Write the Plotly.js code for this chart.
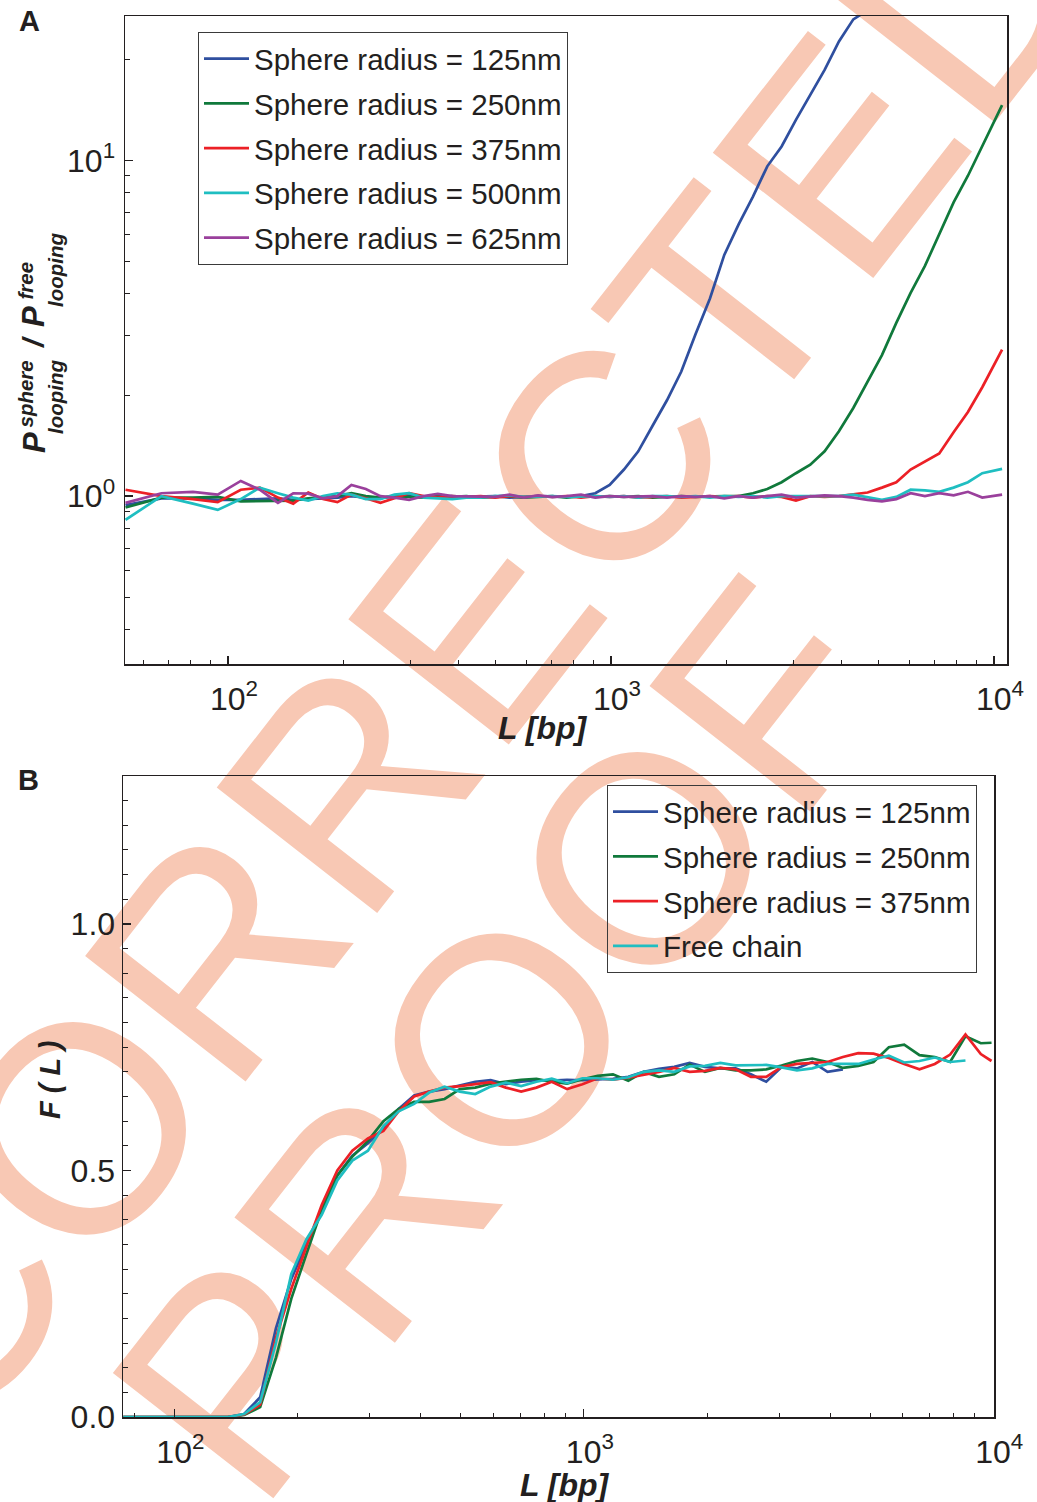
<!DOCTYPE html>
<html>
<head>
<meta charset="utf-8">
<script src="https://cdn.plot.ly/plotly-3.0.1.min.js"></script>
<style>
  html, body { margin:0; padding:0; background:#fff; }
  #wrap { position:relative; width:1037px; height:1502px; overflow:hidden; background:#fff; }
  .wm { position:absolute; font-family:"Liberation Sans", Arial, sans-serif; font-size:296px; line-height:1;
        color:#f8c8b4; white-space:nowrap; transform-origin:50% 50%; }
  #chart { position:absolute; left:0; top:0; width:1037px; height:1502px; }
</style>
</head>
<body>
<div id="wrap">
  <div class="wm" id="wm1">CORRECTED</div>
  <div class="wm" id="wm2">PROOF</div>
  <div id="chart"></div>
</div>
<script>
// ---------------- Panel A data: P_looping(sphere) / P_looping(free) ----------------
const lengthA = [54,67,81,94,108,121,135,148,162,177,193,210,229,250,272,297,324,353,385,419,457,498,543,592,645,703,766,835,910,992,1081,1178,1284,1400,1526,1663,1813,1976,2154,2348,2559,2789,3040,3314,3612,3937,4292,4678,5099,5558,6058,6603,7197,7845,8551,9321,10500];

const ratioR125 = [0.94,0.985,0.985,0.975,0.975,0.98,0.985,0.975,0.98,0.985,
  0.99,1.0,0.99,0.99,0.995,1.0,0.995,1.0,1.0,0.995,
  1.0,1.0,0.99,0.995,1.0,0.995,1.0,1.0,1.02,1.08,
  1.2,1.36,1.62,1.93,2.35,3.04,3.88,5.23,6.45,7.8,
  9.6,11.0,13.2,15.7,18.6,22.6,26.3,28.0,
  null,null,null,null,null,null,null,null,null];

const ratioR250 = [0.925,0.99,0.99,0.995,0.965,0.965,0.965,0.97,0.985,0.99,
  1.0,1.02,1.0,0.99,1.0,0.995,0.99,1.0,0.995,1.0,
  0.99,0.995,1.0,0.99,0.995,1.0,0.99,1.0,0.995,1.0,
  0.995,1.0,0.99,0.995,1.0,0.995,1.0,1.0,
  1.0,1.02,1.05,1.10,1.17,1.24,1.36,1.56,1.83,2.20,
  2.63,3.28,4.03,4.85,6.0,7.5,9.0,11.0,14.6];

const ratioR375 = [1.045,1.0,0.98,0.96,1.045,1.06,0.99,0.95,1.025,0.98,
  0.96,1.01,0.985,0.955,0.985,1.02,1.0,0.99,1.0,0.995,
  1.0,0.99,1.0,0.995,1.0,0.995,1.0,0.99,1.0,0.995,
  1.0,0.99,0.995,1.0,0.99,0.995,1.0,0.995,1.0,0.99,
  1.0,0.995,0.97,1.0,0.995,1.0,
  1.01,1.025,1.06,1.10,1.2,1.27,1.34,1.55,1.78,2.11,2.73];

const ratioR500 = [0.85,1.0,0.95,0.91,0.98,1.06,1.02,0.99,0.97,1.0,
  1.02,1.01,0.98,0.98,1.01,1.02,0.99,0.985,0.98,0.99,
  0.99,1.0,1.005,0.995,1.0,1.0,0.995,1.0,1.0,0.995,
  1.0,0.99,1.0,1.0,0.995,1.0,0.99,1.0,0.995,1.0,
  0.99,1.0,1.0,0.995,1.0,1.0,1.01,0.99,
  0.975,0.995,1.045,1.04,1.03,1.06,1.10,1.17,1.205];

const ratioR625 = [0.955,1.02,1.03,1.01,1.11,1.045,0.955,1.02,1.017,0.985,
  1.0,1.08,1.05,1.0,0.99,0.975,1.0,1.015,1.0,1.0,
  1.0,0.995,1.01,0.99,1.005,0.995,1.0,1.01,0.99,1.0,
  0.995,1.0,1.0,0.99,1.0,0.995,1.0,0.985,1.0,0.99,
  1.0,1.01,0.99,1.0,1.005,1.0,0.99,0.975,0.965,0.98,
  1.02,1.0,1.02,1.005,1.03,0.99,1.01];

const namesA = ["Sphere radius = 125nm","Sphere radius = 250nm","Sphere radius = 375nm","Sphere radius = 500nm","Sphere radius = 625nm"];

// ---------------- Panel B data: F(L) ----------------
const lengthB = [75,81,94,108,121,135,148,162,177,193,210,229,250,272,297,324,353,385,419,457,498,543,592,645,703,766,835,910,992,1081,1178,1284,1400,1526,1663,1813,1976,2154,2348,2559,2789,3040,3314,3612,3937,4292,4678,5099,5558,6058,6603,7197,7845,8551,9321,9900];

const fracR125 = [0,0,0,0,0,0,0.006,0.04,0.18,0.28,
  0.35,0.42,0.49,0.53,0.555,0.585,0.625,0.652,0.66,0.665,
  0.672,0.68,0.683,0.675,0.68,0.683,0.682,0.684,0.683,0.684,
  0.686,0.69,0.70,0.706,0.71,0.718,0.71,0.707,0.707,0.695,
  0.68,0.71,0.707,0.72,0.70,0.705,
  null,null,null,null,null,null,null,null,null,null];

const fracR250 = [0,0,0,0,0,0,0.004,0.02,0.12,0.24,
  0.33,0.42,0.49,0.528,0.56,0.60,0.625,0.639,0.639,0.645,
  0.665,0.668,0.676,0.68,0.684,0.686,0.68,0.676,0.685,0.692,
  0.695,0.682,0.70,0.69,0.695,0.715,0.70,0.708,0.703,0.703,
  0.705,0.713,0.722,0.727,0.72,0.708,0.712,0.72,0.75,0.755,
  0.734,0.73,0.72,0.772,0.758,0.759];

const fracR375 = [0,0,0,0,0,0,0.005,0.025,0.16,0.26,
  0.345,0.43,0.50,0.54,0.565,0.58,0.62,0.65,0.66,0.668,
  0.671,0.675,0.679,0.668,0.66,0.668,0.68,0.665,0.675,0.687,
  0.684,0.688,0.694,0.70,0.708,0.70,0.702,0.708,0.705,0.69,
  0.69,0.71,0.716,0.718,0.72,0.73,0.738,0.737,0.728,0.716,
  0.705,0.716,0.735,0.776,0.736,0.722];

const fracFree = [0,0,0,0,0,0,0.006,0.03,0.15,0.29,
  0.36,0.41,0.48,0.52,0.54,0.59,0.62,0.635,0.658,0.67,
  0.66,0.655,0.67,0.678,0.671,0.68,0.686,0.677,0.687,0.687,
  0.684,0.689,0.70,0.703,0.70,0.711,0.712,0.718,0.713,0.713,
  0.714,0.709,0.703,0.707,0.716,0.716,0.716,0.725,0.733,0.719,
  0.722,0.729,0.72,0.723,null,null];

const namesB = ["Sphere radius = 125nm","Sphere radius = 250nm","Sphere radius = 375nm","Free chain"];

// tick labels
const logTickValsA = [100,1000,10000];
const logTickTextA = ["10<sup>2</sup>","10<sup>3</sup>","10<sup>4</sup>"];
const yTickValsA = [1,10];
const yTickTextA = ["10<sup>0</sup>","10<sup>1</sup>"];

// ---------------- styling ----------------
const colors = ["#2f4f9f","#10793b","#ec2026","#1fbec1","#9a409c"];
const INK = "#231f20";
const FONT = "Liberation Sans, Arial, Helvetica, sans-serif";
const W = 1037, H = 1502;
const fx = p => p / W;
const fy = p => 1 - p / H;

// watermark placement (behind the chart)
function placeWM(id, cx, cy, ang) {
  const el = document.getElementById(id);
  el.style.left = cx + "px";
  el.style.top = cy + "px";
  el.style.transform = "translate(-50%,-50%) rotate(" + ang + "deg)";
}
placeWM("wm1", 454, 649, -52);
placeWM("wm2", 502, 1040, -52);

const seriesA = [ratioR125, ratioR250, ratioR375, ratioR500, ratioR625];
const seriesB = [fracR125, fracR250, fracR375, fracFree];

const traces = [];
seriesA.forEach((ys, i) => {
  traces.push({
    type: "scatter", mode: "lines", x: lengthA, y: ys, name: namesA[i],
    xaxis: "x", yaxis: "y", legend: "legend", legendgroup: "a" + i,
    line: { color: colors[i], width: 2.7 }, connectgaps: false, hoverinfo: "skip"
  });
});
seriesB.forEach((ys, i) => {
  traces.push({
    type: "scatter", mode: "lines", x: lengthB, y: ys, name: namesB[i],
    xaxis: "x2", yaxis: "y2", legend: "legend2", legendgroup: "b" + i,
    line: { color: colors[i], width: 2.7 }, connectgaps: false, hoverinfo: "skip"
  });
});

const base = {
  showline: true, linecolor: INK, linewidth: 1.5, mirror: true,
  ticks: "inside", ticklen: 8, tickwidth: 1.3, tickcolor: INK,
  showgrid: false, zeroline: false,
  tickfont: { family: FONT, size: 32, color: INK }
};
const minorLog = (vals) => ({ tickmode: "array", tickvals: vals, ticks: "inside", ticklen: 4.5, tickwidth: 1, tickcolor: INK, showgrid: false });

const titleFont = { family: FONT, size: 32, color: INK, weight: "bold", style: "italic" };

const legendBase = {
  xanchor: "left", yanchor: "top",
  bgcolor: "rgba(0,0,0,0)", bordercolor: "#3a3a3a", borderwidth: 1,
  font: { family: FONT, size: 29.5, color: INK },
  itemwidth: 45, traceorder: "grouped", tracegroupgap: 3.4
};

const layout = {
  width: W, height: H,
  margin: { l: 0, r: 0, t: 0, b: 0 },
  paper_bgcolor: "rgba(0,0,0,0)", plot_bgcolor: "rgba(0,0,0,0)",
  font: { family: FONT, color: INK },
  showlegend: true,
  xaxis: Object.assign({}, base, {
    type: "log", domain: [fx(125), fx(1007)], range: [1.731, 4.034], anchor: "y",
    tickmode: "array", tickvals: logTickValsA, ticktext: logTickTextA,
    ticklabelshift: 6, ticklabelstandoff: 6,
    minor: minorLog([60,70,80,90,200,300,400,500,600,700,800,900,2000,3000,4000,5000,6000,7000,8000,9000])
  }),
  yaxis: Object.assign({}, base, {
    type: "log", domain: [fy(664), fy(16)], range: [-0.5, 1.43], anchor: "x",
    tickmode: "array", tickvals: yTickValsA, ticktext: yTickTextA, ticklabelstandoff: 2,
    minor: minorLog([0.4,0.5,0.6,0.7,0.8,0.9,2,3,4,5,6,7,8,9,20])
  }),
  xaxis2: Object.assign({}, base, {
    type: "log", domain: [fx(123), fx(994)], range: [1.8745, 4.0017], anchor: "y2",
    tickmode: "array", tickvals: logTickValsA, ticktext: logTickTextA,
    ticklabelshift: 6, ticklabelstandoff: 6,
    minor: minorLog([80,200,300,400,500,600,700,800,900,2000,3000,4000,5000,6000,7000,8000,9000])
  }),
  yaxis2: Object.assign({}, base, {
    type: "linear", domain: [fy(1417), fy(776)], range: [0, 1.3], anchor: "x2",
    tickmode: "linear", tick0: 0, dtick: 0.5, tickformat: ".1f",
    minor: { dtick: 0.05, ticks: "inside", ticklen: 4.5, tickwidth: 1, tickcolor: INK, showgrid: false }
  }),
  legend: Object.assign({}, legendBase, { x: fx(198), y: fy(32) }),
  legend2: Object.assign({}, legendBase, { x: fx(607), y: fy(785) }),
  annotations: [
    { text: "A", x: fx(29), y: fy(21), xref: "paper", yref: "paper", showarrow: false,
      xanchor: "center", yanchor: "middle",
      font: { family: FONT, size: 29, color: INK, weight: "bold" } },
    { text: "B", x: fx(28), y: fy(780), xref: "paper", yref: "paper", showarrow: false,
      xanchor: "center", yanchor: "middle",
      font: { family: FONT, size: 29, color: INK, weight: "bold" } },
    // axis titles
    { text: "L [bp]", x: fx(543), y: fy(728), xref: "paper", yref: "paper", showarrow: false,
      xanchor: "center", yanchor: "middle", font: titleFont },
    { text: "L [bp]", x: fx(565), y: fy(1485), xref: "paper", yref: "paper", showarrow: false,
      xanchor: "center", yanchor: "middle", font: titleFont },
    { text: "F ( L )", x: fx(50), y: fy(1080), xref: "paper", yref: "paper", showarrow: false,
      textangle: -90, xanchor: "center", yanchor: "middle", font: Object.assign({}, titleFont, { size: 29 }) }
  ]
};

// composite y-axis title of panel A (stacked super/subscripts)
const ytA = [
  { t: "P", x: 34, y: 443, s: 31 },
  { t: "sphere", x: 25.5, y: 394, s: 20.5 },
  { t: "looping", x: 55, y: 397, s: 20.5 },
  { t: "/", x: 33, y: 343, s: 30 },
  { t: "P", x: 34, y: 317, s: 31 },
  { t: "free", x: 25.5, y: 281, s: 20.5 },
  { t: "looping", x: 55, y: 270, s: 20.5 }
];
ytA.forEach(p => {
  layout.annotations.push({
    text: p.t, x: fx(p.x), y: fy(p.y), xref: "paper", yref: "paper", showarrow: false,
    textangle: -90, xanchor: "center", yanchor: "middle",
    font: { family: FONT, size: p.s, color: INK, weight: "bold", style: "italic" }
  });
});

Plotly.newPlot("chart", traces, layout, { staticPlot: true, displayModeBar: false });
</script>
</body>
</html>
